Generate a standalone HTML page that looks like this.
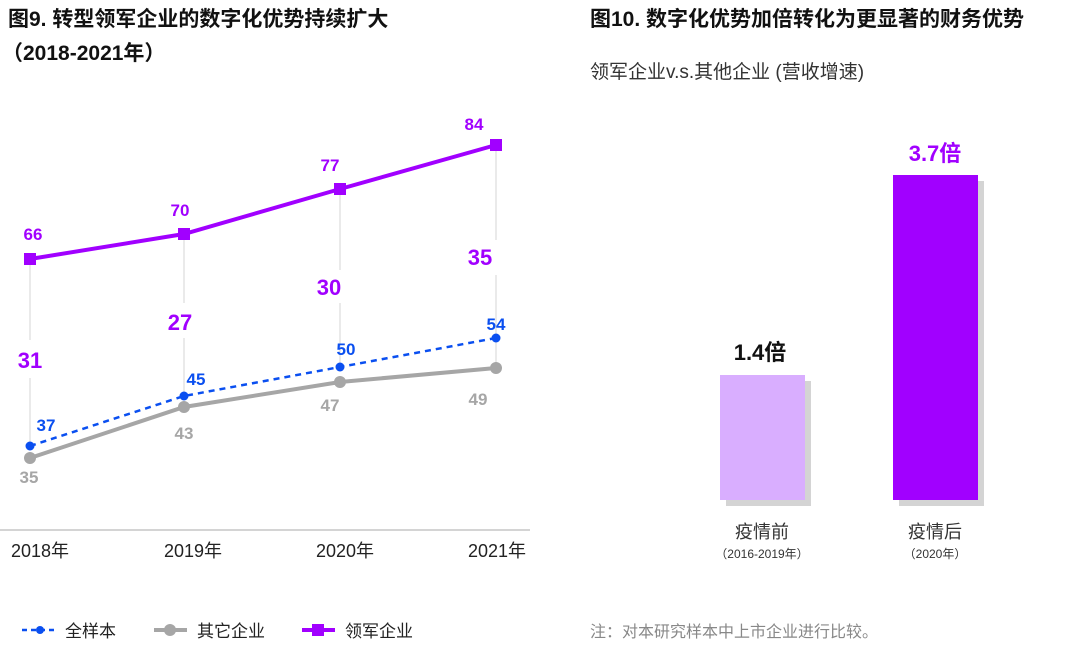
<!DOCTYPE html>
<html><head><meta charset="utf-8"><style>
body{margin:0;width:1080px;height:646px;background:#fff;overflow:hidden;font-family:"Liberation Sans","Noto Sans CJK SC",sans-serif;}
</style></head><body>
<svg width="1080" height="646" viewBox="0 0 1080 646" xmlns="http://www.w3.org/2000/svg" font-family="Liberation Sans, Noto Sans CJK SC, sans-serif">
<text x="8" y="26" font-size="21" font-weight="bold" fill="#111">图9. 转型领军企业的数字化优势持续扩大</text>
<text x="2" y="60" font-size="21" font-weight="bold" fill="#111">（2018-2021年）</text>
<text x="590" y="26" font-size="21" font-weight="bold" fill="#111">图10. 数字化优势加倍转化为更显著的财务优势</text>
<text x="590" y="78" font-size="19" fill="#333">领军企业v.s.其他企业 (营收增速)</text>
<!-- vertical guides -->
<g stroke="#ddd" stroke-width="1.2">
<line x1="30" y1="259" x2="30" y2="340"/><line x1="30" y1="378" x2="30" y2="446"/>
<line x1="184" y1="234" x2="184" y2="303"/><line x1="184" y1="338" x2="184" y2="396"/>
<line x1="340" y1="189" x2="340" y2="270"/><line x1="340" y1="303" x2="340" y2="367"/>
<line x1="496" y1="145" x2="496" y2="240"/><line x1="496" y1="275" x2="496" y2="368"/>
</g>
<line x1="0" y1="530" x2="530" y2="530" stroke="#aaa" stroke-width="1"/>
<!-- gray -->
<polyline points="30,458 184,407 340,382 496,368" fill="none" stroke="#a6a6a6" stroke-width="4"/>
<g fill="#a6a6a6"><circle cx="30" cy="458" r="6"/><circle cx="184" cy="407" r="6"/><circle cx="340" cy="382" r="6"/><circle cx="496" cy="368" r="6"/></g>
<!-- blue -->
<polyline points="30,446 184,396 340,367 496,338" fill="none" stroke="#0a4ff0" stroke-width="2.5" stroke-dasharray="6,5"/>
<g fill="#0a4ff0"><circle cx="30" cy="446" r="4.5"/><circle cx="184" cy="396" r="4.5"/><circle cx="340" cy="367" r="4.5"/><circle cx="496" cy="338" r="4.5"/></g>
<!-- purple -->
<polyline points="30,259 184,234 340,189 496,145" fill="none" stroke="#a100ff" stroke-width="4"/>
<g fill="#a100ff"><rect x="24" y="253" width="12" height="12"/><rect x="178" y="228" width="12" height="12"/><rect x="334" y="183" width="12" height="12"/><rect x="490" y="139" width="12" height="12"/></g>
<g font-weight="bold" fill="#a100ff" font-size="17" text-anchor="middle">
<text x="33" y="240">66</text><text x="180" y="216">70</text><text x="330" y="171">77</text><text x="474" y="130">84</text></g>
<g font-weight="bold" fill="#a100ff" font-size="22" text-anchor="middle">
<text x="30" y="368">31</text><text x="180" y="330">27</text><text x="329" y="295">30</text><text x="480" y="265">35</text></g>
<g font-weight="bold" fill="#0a4ff0" font-size="17" text-anchor="middle">
<text x="46" y="431">37</text><text x="196" y="385">45</text><text x="346" y="355">50</text><text x="496" y="330">54</text></g>
<g font-weight="bold" fill="#a6a6a6" font-size="17" text-anchor="middle">
<text x="29" y="483">35</text><text x="184" y="439">43</text><text x="330" y="411">47</text><text x="478" y="405">49</text></g>
<g font-size="18" fill="#222" text-anchor="middle">
<text x="40" y="557">2018年</text><text x="193" y="557">2019年</text><text x="345" y="557">2020年</text><text x="497" y="557">2021年</text></g>
<!-- legend -->
<line x1="22" y1="630" x2="55" y2="630" stroke="#0a4ff0" stroke-width="2.5" stroke-dasharray="5,4"/><circle cx="40" cy="630" r="4" fill="#0a4ff0"/>
<text x="65" y="637" font-size="17" fill="#222">全样本</text>
<line x1="154" y1="630" x2="187" y2="630" stroke="#a6a6a6" stroke-width="4"/><circle cx="170" cy="630" r="6" fill="#a6a6a6"/>
<text x="197" y="637" font-size="17" fill="#222">其它企业</text>
<line x1="302" y1="630" x2="335" y2="630" stroke="#a100ff" stroke-width="4"/><rect x="312" y="624" width="12" height="12" fill="#a100ff"/>
<text x="345" y="637" font-size="17" fill="#222">领军企业</text>
<!-- bars -->
<rect x="726" y="381" width="85" height="125" fill="#d4d4d4"/>
<rect x="720" y="375" width="85" height="125" fill="#d9aeff"/>
<rect x="899" y="181" width="85" height="325" fill="#d4d4d4"/>
<rect x="893" y="175" width="85" height="325" fill="#a100ff"/>
<text x="760" y="360" font-size="22" font-weight="bold" fill="#111" text-anchor="middle">1.4倍</text>
<text x="935" y="161" font-size="22" font-weight="bold" fill="#a100ff" text-anchor="middle">3.7倍</text>
<g text-anchor="middle" fill="#333">
<text x="762" y="538" font-size="18">疫情前</text><text x="762" y="558" font-size="12">（2016-2019年）</text>
<text x="935" y="538" font-size="18">疫情后</text><text x="935" y="558" font-size="12">（2020年）</text></g>
<text x="590" y="637" font-size="16" fill="#888">注：对本研究样本中上市企业进行比较。</text>
</svg>
</body></html>
